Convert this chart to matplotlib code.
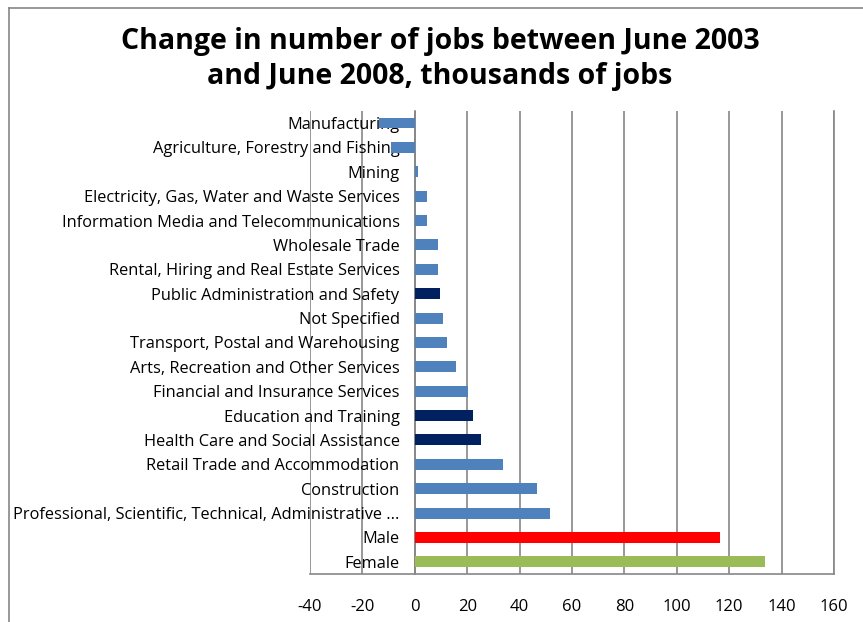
import matplotlib
matplotlib.use("Agg")
import matplotlib.pyplot as plt
from matplotlib.lines import Line2D

categories = [
    "Manufacturing",
    "Agriculture, Forestry and Fishing",
    "Mining",
    "Electricity, Gas, Water and Waste Services",
    "Information Media and Telecommunications",
    "Wholesale Trade",
    "Rental, Hiring and Real Estate Services",
    "Public Administration and Safety",
    "Not Specified",
    "Transport, Postal and Warehousing",
    "Arts, Recreation and Other Services",
    "Financial and Insurance Services",
    "Education and Training",
    "Health Care and Social Assistance",
    "Retail Trade and Accommodation",
    "Construction",
    "Professional, Scientific, Technical, Administrative ...",
    "Male",
    "Female",
]
values = [-13.6, -8.9, 1.4, 4.8, 4.8, 9.0, 9.0, 9.6, 10.7, 12.4,
          15.9, 20.3, 22.4, 25.1, 33.8, 46.8, 51.6, 116.4, 133.6]
xticks = [-40, -20, 0, 20, 40, 60, 80, 100, 120, 140, 160]

BLUE = "#4F81BD"
NAVY = "#002060"
RED = "#FF0000"
GREEN = "#9BBB59"
colors = [BLUE] * len(categories)
for name in ["Public Administration and Safety", "Education and Training",
             "Health Care and Social Assistance"]:
    colors[categories.index(name)] = NAVY
colors[categories.index("Male")] = RED
colors[categories.index("Female")] = GREEN

plt.rcParams["font.family"] = ["Open Sans", "DejaVu Sans"]
GRID = "#868686"

fig = plt.figure(figsize=(8.63, 6.22), dpi=100)
ax = fig.add_axes([310/863, 1-574/622, (834-310)/863, (574-110.8)/622])

pos = list(range(len(categories)))
ax.barh(pos, values, height=0.45, color=colors, zorder=3)
ax.set_ylim(len(categories)-0.5, -0.5)
ax.set_xlim(-40, 160)
ax.set_xticks(xticks)
ax.set_xticklabels([str(t) for t in xticks])
ax.set_yticks(pos)
ax.set_yticklabels(categories)
ax.tick_params(axis="y", length=0, pad=11, labelsize=11.8)
ax.tick_params(axis="x", length=0, pad=18, labelsize=12)
for lbl in ax.get_yticklabels():
    lbl.set_zorder(5)
ax.xaxis.grid(True, color=GRID, linewidth=1.2, zorder=0)
ax.set_axisbelow(True)
ax.spines["left"].set_position(("data", 0))
for s in ["left", "bottom", "right"]:
    ax.spines[s].set_color(GRID)
    ax.spines[s].set_linewidth(1.2)
ax.spines["top"].set_visible(False)

fig.text(440/863, 1-59/622, "Change in number of jobs between June 2003\nand June 2008, thousands of jobs",
         ha="center", va="center", fontweight="bold",
         fontsize=20.5, linespacing=1.25)

fig.add_artist(Line2D([9/863, 9/863], [0, 1-8/622], color=GRID, linewidth=1.2,
                      transform=fig.transFigure))
fig.add_artist(Line2D([9/863, 1], [1-8/622, 1-8/622], color=GRID, linewidth=1.2,
                      transform=fig.transFigure))

fig.savefig("out.png", dpi=100)
